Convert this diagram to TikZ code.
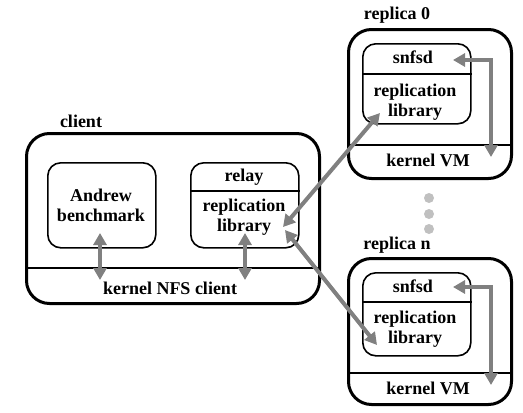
\documentclass[tikz,border=0pt]{standalone}
\usepackage{fontspec}
\setmainfont{Liberation Serif}
\usetikzlibrary{arrows.meta}
\definecolor{arrowgray}{RGB}{128,128,128}
\definecolor{dotgray}{RGB}{192,192,192}
\tikzset{
  outerbox/.style={draw, line width=3pt, rounded corners=23pt, inner sep=0pt, anchor=north west},
  innerbox/.style={draw, line width=1.6pt, rounded corners=13pt, inner sep=0pt, anchor=north west},
  divider/.style={line width=2pt},
  lbl/.style={font=\bfseries\fontsize{18}{20}\selectfont, align=center, inner sep=0pt},
  dblarrow/.style={draw=arrowgray, line width=4pt, {Triangle[length=12pt,width=13pt]}-{Triangle[length=12pt,width=13pt]}},
  sepdot/.style={circle, fill=dotgray, inner sep=0pt, minimum size=10pt}
}
\begin{document}
\begin{tikzpicture}[x=1pt,y=-1pt]
\useasboundingbox (0,0) rectangle (523,413);

% client
\node[outerbox, minimum width=293pt, minimum height=170pt] (client) at (25,132) {};
\coordinate (cdiv) at (0,268);
\draw[divider] (client.west |- cdiv) -- (client.east |- cdiv);
\node[lbl] (clientlbl) at (81,121) {client};
\node[innerbox, minimum width=108pt, minimum height=85pt] (andrew) at (47,162) {};
\node[lbl] (andrewtxt) at (101,205) {Andrew\\benchmark};
\node[innerbox, minimum width=108pt, minimum height=85pt] (relay) at (190,162) {};
\coordinate (rdiv) at (0,191);
\draw[divider] (relay.west |- rdiv) -- (relay.east |- rdiv);
\node[lbl] (relaytxt) at (244,177) {relay};
\node[lbl] (crep) at (244,217) {replication\\library};
\node[lbl] (nfs) at (170,288) {kernel NFS client};

% replica 0
\node[outerbox, minimum width=163pt, minimum height=149pt] (rep0) at (347,28) {};
\coordinate (r0div) at (0,145);
\draw[divider] (rep0.west |- r0div) -- (rep0.east |- r0div);
\node[lbl] (rep0lbl) at (397,15) {replica 0};
\node[innerbox, minimum width=108pt, minimum height=80pt] (in0) at (362,43) {};
\coordinate (i0div) at (0,74);
\draw[divider] (in0.west |- i0div) -- (in0.east |- i0div);
\node[lbl] (snfsd0) at (413,57) {snfsd};
\node[lbl] (rep0lib) at (415,102) {replication\\library};
\node[lbl] (vm0) at (428,160) {kernel VM};

% replica n
\node[outerbox, minimum width=163pt, minimum height=146pt] (repn) at (347,257) {};
\coordinate (rndiv) at (0,373);
\draw[divider] (repn.west |- rndiv) -- (repn.east |- rndiv);
\node[lbl] (repnlbl) at (397,245) {replica n};
\node[innerbox, minimum width=108pt, minimum height=83pt] (inn) at (362,272) {};
\coordinate (indiv) at (0,302);
\draw[divider] (inn.west |- indiv) -- (inn.east |- indiv);
\node[lbl] (snfsdn) at (413,286) {snfsd};
\node[lbl] (repnlib) at (415,329) {replication\\library};
\node[lbl] (vmn) at (428,388) {kernel VM};

% dots
\node[sepdot] (d1) at (429,198) {};
\node[sepdot] (d2) at (429,214) {};
\node[sepdot] (d3) at (429,229) {};

% arrows
\coordinate (a1t) at (100,233); \coordinate (a1b) at (100,280);
\coordinate (a2t) at (245,233); \coordinate (a2b) at (245,280);
\draw[dblarrow] (a1t) -- (a1b);
\draw[dblarrow] (a2t) -- (a2b);

\coordinate (c0) at (283,227); \coordinate (r0e) at (380,113);
\coordinate (cn) at (285,230); \coordinate (rne) at (377,345);
\draw[dblarrow] (c0) -- (r0e);
\draw[dblarrow] (cn) -- (rne);

\coordinate (s0) at (453,60); \coordinate (k0) at (491,157);
\draw[dblarrow] (s0) -| (k0);
\coordinate (sn) at (453,287); \coordinate (kn) at (491,385);
\draw[dblarrow] (sn) -| (kn);
\end{tikzpicture}
\end{document}
